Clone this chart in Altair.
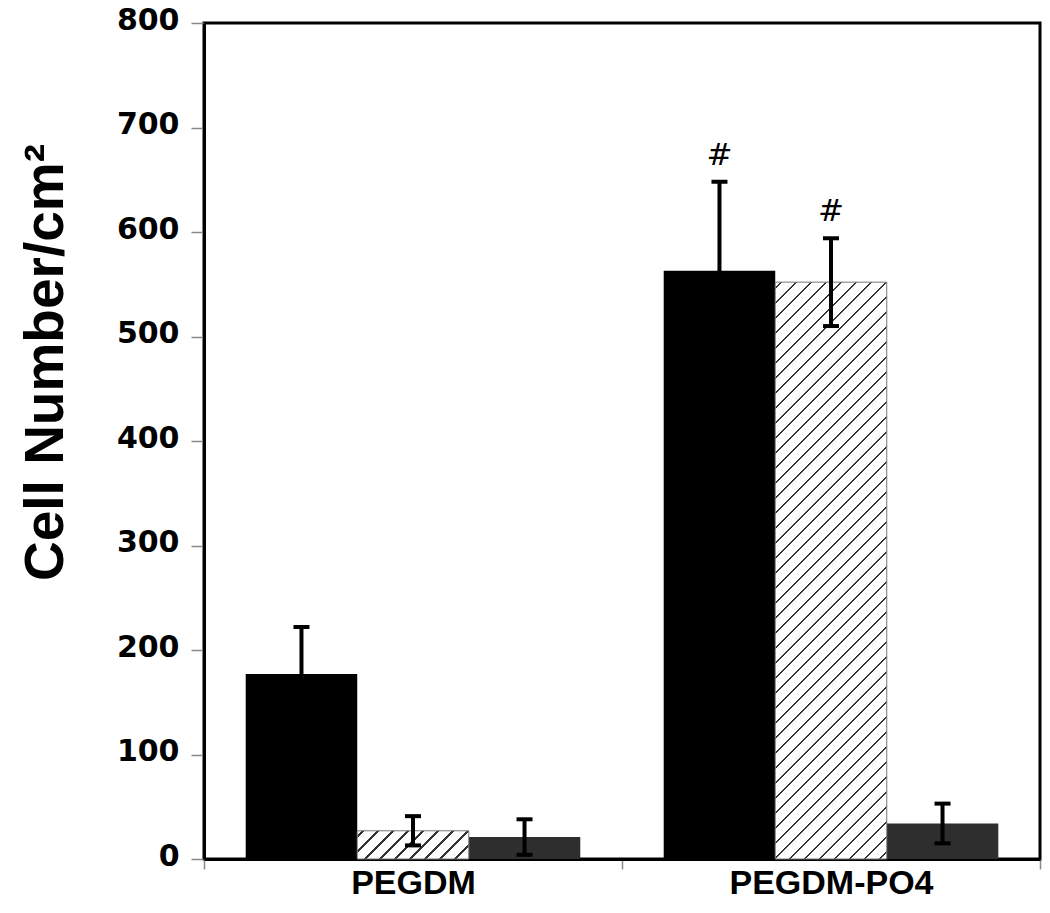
import altair as alt
import pandas as pd

groups = ["PEGDM", "PEGDM-PO4"]
conditions = ["Condition 1", "Condition 2", "Condition 3"]
means_pegdm = [177, 27, 21]
means_po4 = [563, 552, 34]
sd_pegdm = [45, 14, 17]
sd_po4 = [85, 42, 19]
sig_pegdm = ["", "", ""]
sig_po4 = ["#", "#", ""]
y_ticks = [0, 100, 200, 300, 400, 500, 600, 700, 800]

rows = []
for g, ms, sds, sg in [(groups[0], means_pegdm, sd_pegdm, sig_pegdm),
                       (groups[1], means_po4, sd_po4, sig_po4)]:
    for c, m, s, t in zip(conditions, ms, sds, sg):
        rows.append({"group": g, "cond": c, "mean": m, "lo": m - s, "hi": m + s, "sig": t})
df = pd.DataFrame(rows)

W, H = 836, 836
YMAX = 800
PAD_OUT = 0.374
step = (W / len(groups)) / (len(conditions) + 2 * PAD_OUT)


def hatch(value, spacing=15.0, lw=2.2, color="#333333", phase=6.0):
    w = step
    h = value * H / YMAX
    L = w + h
    k = L / (w * w + h * h)
    stops = [{"offset": 0, "color": "#ffffff"}]
    c = phase
    while c + lw / 2 < L:
        a = (c - lw / 2) / L
        b = (c + lw / 2) / L
        stops += [{"offset": a, "color": "#ffffff"}, {"offset": a, "color": color},
                  {"offset": b, "color": color}, {"offset": b, "color": "#ffffff"}]
        c += spacing
    stops.append({"offset": 1, "color": "#ffffff"})
    return {"gradient": "linear", "x1": 0, "y1": 0, "x2": k * w, "y2": k * h, "stops": stops}


x_enc = alt.X("group:N", sort=groups,
              scale=alt.Scale(domain=groups, paddingInner=0, paddingOuter=0),
              axis=alt.Axis(title=None, labelAngle=0, labelFont="Liberation Sans",
                            labelFontSize=34, labelFontWeight="bold", labelColor="black",
                            labelBaseline="alphabetic", labelPadding=24, labelLimit=0,
                            tickBand="extent", tickSize=10,
                            tickColor="#8a8a8a", tickWidth=1.5,
                            domainColor="black", domainWidth=3))
xo_enc = alt.XOffset("cond:N", sort=conditions,
                     scale=alt.Scale(domain=conditions, paddingInner=0, paddingOuter=PAD_OUT))
y_scale = alt.Scale(domain=[0, YMAX], nice=False)

base = alt.Chart(df).encode(x=x_enc, xOffset=xo_enc)

bars = base.transform_filter(alt.datum.cond != conditions[1]).mark_bar().encode(
    y=alt.Y("mean:Q", scale=y_scale,
            axis=alt.Axis(values=y_ticks, title="Cell Number/cm²", grid=False,
                          labelFont="DejaVu Sans", labelFontSize=30, labelFontWeight="bold",
                          labelColor="black", labelPadding=12, labelOffset=-3,
                          tickSize=13, tickColor="#8a8a8a", tickWidth=1.5,
                          domainColor="black", domainWidth=3,
                          titleFont="Liberation Sans", titleFontSize=55, titleFontWeight="bold",
                          titleColor="black", titleAngle=270, titleBaseline="alphabetic",
                          titleAlign="center", titleX=-142, titleY=339)),
    color=alt.Color("cond:N", scale=alt.Scale(domain=conditions,
                                               range=["#000000", "#ffffff", "#2e2e2e"]),
                    legend=None),
)

hatched_layers = []
for g, ms in [(groups[0], means_pegdm), (groups[1], means_po4)]:
    v = ms[1]
    hatched_layers.append(
        base.transform_filter((alt.datum.group == g) & (alt.datum.cond == conditions[1]))
        .mark_bar(fill=hatch(v), stroke="#777777", strokeWidth=1)
        .encode(y=alt.Y("mean:Q", scale=y_scale))
    )

rules = base.mark_rule(color="black", strokeWidth=4).encode(
    y=alt.Y("lo:Q", scale=y_scale), y2="hi:Q")
cap_hi = base.mark_tick(color="black", size=16, thickness=4, opacity=1).encode(
    y=alt.Y("hi:Q", scale=y_scale))
cap_lo = base.mark_tick(color="black", size=16, thickness=4, opacity=1).encode(
    y=alt.Y("lo:Q", scale=y_scale))
sig = base.mark_text(font="DejaVu Sans", fontSize=31, color="black",
                     baseline="alphabetic", dy=-17).encode(
    y=alt.Y("hi:Q", scale=y_scale), text="sig:N")

chart = alt.layer(bars, *hatched_layers, rules, cap_hi, cap_lo, sig).properties(
    width=W, height=H,
    autosize=alt.AutoSizeParams(type="none"),
    padding={"left": 196, "top": 15, "right": 2, "bottom": 36},
    background="white",
).configure_view(stroke="black", strokeWidth=3)

chart.save("out.html", embed_options={"renderer": "svg", "actions": False})
